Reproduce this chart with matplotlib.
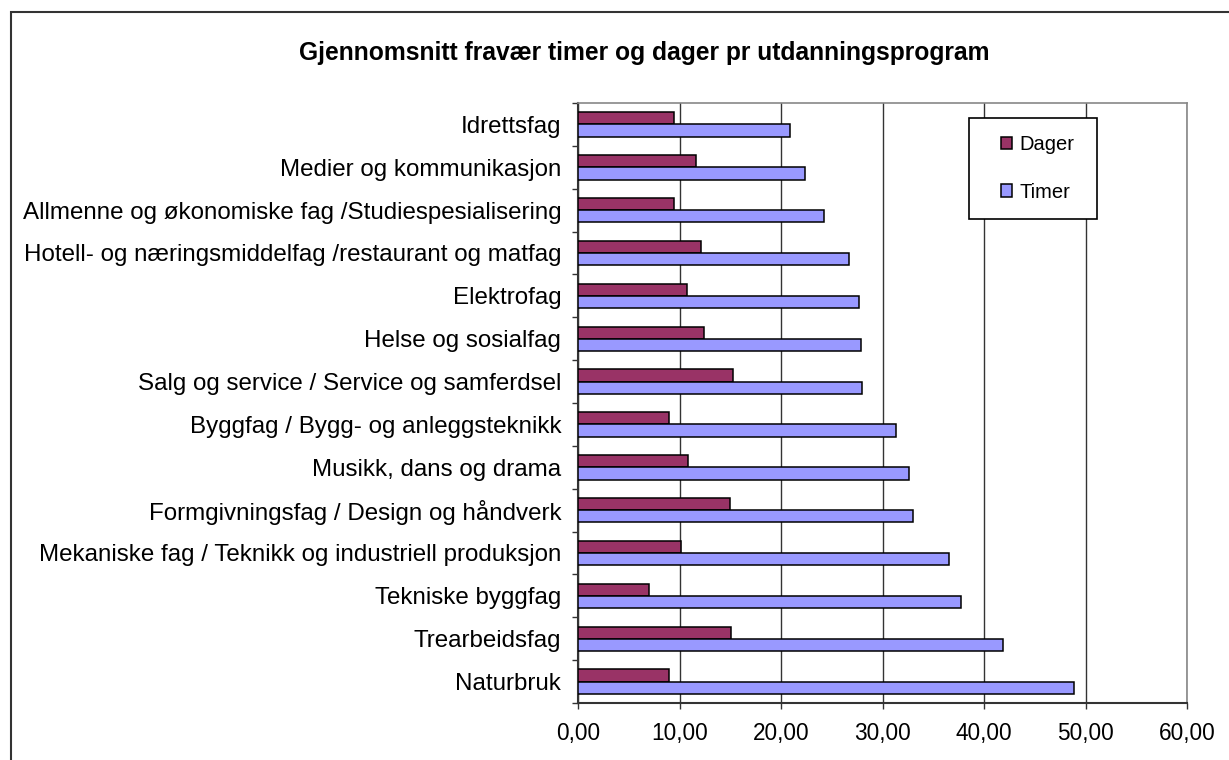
import numpy as np
import matplotlib
matplotlib.use('Agg')
import matplotlib.pyplot as plt
from matplotlib.patches import Rectangle

# --- data ---
categories = [
    'Idrettsfag',
    'Medier og kommunikasjon',
    'Allmenne og økonomiske fag /Studiespesialisering',
    'Hotell- og næringsmiddelfag /restaurant og matfag',
    'Elektrofag',
    'Helse og sosialfag',
    'Salg og service / Service og samferdsel',
    'Byggfag / Bygg- og anleggsteknikk',
    'Musikk, dans og drama',
    'Formgivningsfag / Design og håndverk',
    'Mekaniske fag / Teknikk og industriell produksjon',
    'Tekniske byggfag',
    'Trearbeidsfag',
    'Naturbruk',
]
dager = [9.5, 11.6, 9.5, 12.1, 10.7, 12.4, 15.3, 9.0, 10.8, 15.0, 10.1, 7.0, 15.1, 9.0]
timer = [20.9, 22.4, 24.2, 26.7, 27.7, 27.9, 28.0, 31.3, 32.6, 33.0, 36.6, 37.7, 41.9, 48.9]
xticks = [0, 10, 20, 30, 40, 50, 60]
xticklabels = ['0,00', '10,00', '20,00', '30,00', '40,00', '50,00', '60,00']

plt.rcParams['font.family'] = ['Liberation Sans', 'DejaVu Sans']

W, H = 1229, 760
fig = plt.figure(figsize=(W / 100, H / 100), dpi=100)

# outer chart frame (open on right/bottom like the crop)
fig.patches.append(Rectangle((11 / W, -0.05), 1.1, 1 - 12 / H + 0.05,
                             transform=fig.transFigure, fill=False,
                             edgecolor='#333333', linewidth=1.5))

ax = fig.add_axes([578 / W, (H - 703) / H, 609 / W, 600 / H])

y = np.arange(len(categories))
h = 0.285
ax.barh(y - h / 2, dager, height=h, color='#993366', edgecolor='black', linewidth=1.1, label='Dager', zorder=3)
ax.barh(y + h / 2, timer, height=h, color='#9999FF', edgecolor='black', linewidth=1.1, label='Timer', zorder=3)

ax.set_ylim(len(categories) - 0.5, -0.5)
ax.set_xlim(0, 60)

ax.set_xticks(xticks)
ax.set_xticklabels(xticklabels, fontsize=16.3)
ax.tick_params(axis='x', direction='out', length=4.5, width=1, color='#333333', pad=9.5)

# category labels at centers, tick marks at boundaries
ax.set_yticks(y)
ax.set_yticklabels(categories, fontsize=17.4)
ax.tick_params(axis='y', which='major', length=0, pad=12)
ax.set_yticks(np.arange(len(categories) + 1) - 0.5, minor=True)
ax.tick_params(axis='y', which='minor', direction='out', length=4.5, width=1, color='#333333')

ax.grid(axis='x', color='#333333', linewidth=1, zorder=0)
ax.set_axisbelow(True)

for s in ['left', 'bottom']:
    ax.spines[s].set_color('#333333')
    ax.spines[s].set_linewidth(1.5)
for s in ['top', 'right']:
    ax.spines[s].set_color('#888888')
    ax.spines[s].set_linewidth(1.2)

fig.text(644 / W, 1 - 53 / H, 'Gjennomsnitt fravær timer og dager pr utdanningsprogram',
         ha='center', va='center', fontsize=17.7, fontweight='bold')

# legend box drawn separately so its size matches the reference
ax.add_patch(Rectangle((969 / W, 1 - 219 / H), 128 / W, 101 / H,
                       transform=fig.transFigure, facecolor='white',
                       edgecolor='black', linewidth=1.2, zorder=4, clip_on=False))
leg = ax.legend(loc='center left', bbox_to_anchor=(1001 / W, 1 - 168.5 / H),
                bbox_transform=fig.transFigure, fontsize=14.5, frameon=False,
                handlelength=0.55, handleheight=0.55, handletextpad=0.35,
                labelspacing=1.4, borderpad=0, borderaxespad=0)
leg.set_zorder(6)
for p in leg.get_patches():
    p.set_linewidth(1.1)

fig.savefig('out.png', dpi=100)
